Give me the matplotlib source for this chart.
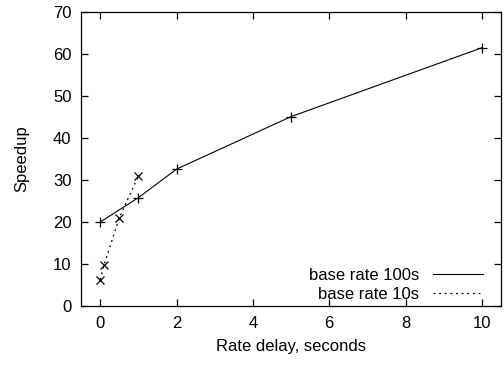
import matplotlib
matplotlib.use("Agg")
import matplotlib.pyplot as plt

plt.rcParams["font.family"] = ["Liberation Sans", "DejaVu Sans"]

# base rate 100s
delay_100 = [0, 1, 2, 5, 10]
speedup_100 = [20.0, 25.8, 32.6, 45.1, 61.5]

# base rate 10s
delay_10 = [0, 0.1, 0.5, 1]
speedup_10 = [6.3, 9.8, 21.0, 31.0]

fig, ax = plt.subplots(figsize=(5.04, 3.66), dpi=100)
fig.subplots_adjust(left=0.161, right=0.994, top=0.967, bottom=0.164)

ax.plot(delay_100, speedup_100, color="k", lw=0.8, marker="+", ms=7, mew=0.9,
        label="base rate 100s")
ax.plot(delay_10, speedup_10, color="k", lw=0.9, ls=(0, (1.5, 3)), marker="x", ms=6, mew=0.9,
        label="base rate 10s")

ax.set_xlim(-0.5, 10.5)
ax.set_ylim(0, 70)
ax.set_xticks(range(0, 11, 2))
ax.set_yticks(range(0, 71, 10))
ax.tick_params(direction="in", top=True, right=True, length=5, width=0.9,
               labelsize=12, pad=7)
for s in ax.spines.values():
    s.set_linewidth(0.9)

ax.set_xlabel("Rate delay, seconds", fontsize=12, labelpad=6)
ax.set_ylabel("Speedup", fontsize=12, labelpad=17)

ax.legend(loc="lower right", frameon=False, markerfirst=False, handlelength=3.0,
          fontsize=12, labelspacing=0.28, handletextpad=0.8,
          borderaxespad=0.0, bbox_to_anchor=(0.972, -0.01))
leg = ax.get_legend()
for h in leg.legend_handles:
    h.set_marker("")

fig.savefig("out.png", dpi=100)
